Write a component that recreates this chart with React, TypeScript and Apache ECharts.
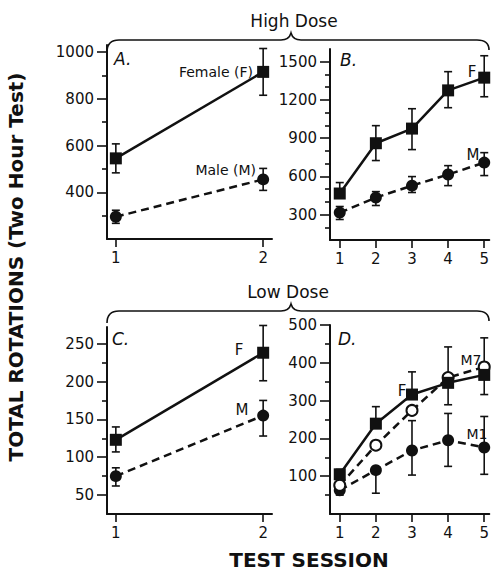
import React, { useEffect, useRef } from "react";
import * as echarts from "echarts";

// ---------- data ----------
const sessions2 = [1, 2];
const sessions5 = [1, 2, 3, 4, 5];

// A. High dose, 2 sessions
const highA_F = [545, 915];
const highA_F_lo = [483, 815];
const highA_F_hi = [607, 1015];
const highA_M = [295, 455];
const highA_M_lo = [267, 408];
const highA_M_hi = [323, 502];

// B. High dose, 5 sessions
const highB_F = [465, 860, 975, 1275, 1375];
const highB_F_lo = [465, 724, 810, 1139, 1225];
const highB_F_hi = [551, 998, 1131, 1422, 1547];
const highB_M = [315, 433, 527, 614, 708];
const highB_M_lo = [261, 371, 473, 527, 606];
const highB_M_hi = [363, 480, 598, 684, 786];

// C. Low dose, 2 sessions
const lowC_F = [123, 238];
const lowC_F_lo = [107, 201];
const lowC_F_hi = [140, 274];
const lowC_M = [75, 155];
const lowC_M_lo = [62, 128];
const lowC_M_hi = [86, 175];

// D. Low dose, 5 sessions
const lowD_F = [105, 239, 316, 347, 368];
const lowD_F_lo = [92, 239, 316, 347, 368];
const lowD_F_hi = [118, 284, 376, 347, 368];
const lowD_M7 = [76, 182, 274, 361, 389];
const lowD_M7_lo = [76, 182, 274, 289, 316];
const lowD_M7_hi = [76, 182, 274, 442, 466];
const lowD_M1 = [63, 116, 168, 195, 176];
const lowD_M1_lo = [50, 55, 103, 126, 105];
const lowD_M1_hi = [63, 116, 247, 266, 258];

// tick values
const ticksA = [400, 600, 800, 1000];
const minorA = [300, 500, 700, 900];
const ticksB = [300, 600, 900, 1200, 1500];
const minorB = [200, 400, 500, 700, 800, 1000, 1100, 1300, 1400];
const ticksC = [50, 100, 150, 200, 250];
const minorC = [75, 125, 175, 225];
const ticksD = [100, 200, 300, 400, 500];
const minorD = [50, 150, 250, 350, 450];

const INK = "#111";
const FONT = '"DejaVu Sans", sans-serif';

const panels = [
  { left: 107, top: 45, width: 165, height: 194, xmin: 0.94, xmax: 2.06, ymin: 200, ymax: 1030, xt: sessions2, yt: ticksA, ym: minorA },
  { left: 330, top: 49, width: 162, height: 191, xmin: 0.73, xmax: 5.14, ymin: 100, ymax: 1600, xt: sessions5, yt: ticksB, ym: minorB },
  { left: 107, top: 327, width: 165, height: 187, xmin: 0.94, xmax: 2.06, ymin: 25, ymax: 272, xt: sessions2, yt: ticksC, ym: minorC },
  { left: 330, top: 325, width: 162, height: 189, xmin: 0.73, xmax: 5.14, ymin: 0, ymax: 500, xt: sessions5, yt: ticksD, ym: minorD },
];

function lineSeries(idx: number, xs: number[], ys: number[], kind: "F" | "M" | "O") {
  const dashed = kind !== "F";
  return {
    type: "line",
    xAxisIndex: idx,
    yAxisIndex: idx * 2,
    data: xs.map((x, i) => [x, ys[i]]),
    symbol: kind === "F" ? "rect" : "circle",
    symbolSize: kind === "F" ? 12 : kind === "O" ? 11 : 12,
    showSymbol: true,
    clip: false,
    silent: true,
    z: 3,
    lineStyle: { color: INK, width: 2.5, type: dashed ? [8, 5] : "solid" },
    itemStyle:
      kind === "O"
        ? { color: "#fff", borderColor: INK, borderWidth: 2 }
        : { color: INK, borderColor: INK, borderWidth: 0 },
  };
}

function errSeries(idx: number, xs: number[], lo: number[], hi: number[]) {
  return {
    type: "custom",
    xAxisIndex: idx,
    yAxisIndex: idx * 2,
    data: xs.map((x, i) => [x, lo[i], hi[i]]),
    encode: { x: 0, y: [1, 2] },
    clip: false,
    silent: true,
    z: 2,
    renderItem: (params: any, api: any) => {
      const x = api.value(0);
      const l = api.value(1);
      const h = api.value(2);
      if (l === h) return { type: "group", children: [] };
      const p1 = api.coord([x, l]);
      const p2 = api.coord([x, h]);
      const w = 4;
      const st = { stroke: INK, lineWidth: 1.6 };
      return {
        type: "group",
        children: [
          { type: "line", shape: { x1: p1[0], y1: p1[1], x2: p2[0], y2: p2[1] }, style: st },
          { type: "line", shape: { x1: p1[0] - w, y1: p1[1], x2: p1[0] + w, y2: p1[1] }, style: st },
          { type: "line", shape: { x1: p2[0] - w, y1: p2[1], x2: p2[0] + w, y2: p2[1] }, style: st },
        ],
      };
    },
  };
}

function txt(text: string, x: number, y: number, size: number, align = "center", extra: any = {}) {
  const { italic, bold, ...rest } = extra;
  return {
    type: "text",
    x,
    y,
    silent: true,
    ...rest,
    style: {
      text,
      fill: INK,
      font: `${italic ? "italic " : ""}${bold ? "bold " : ""}${size}px ${FONT}`,
      textAlign: align,
      textVerticalAlign: "middle",
    },
  };
}

echarts.graphic.registerShape(
  "brace",
  echarts.graphic.extendPath(
    "M107,12 Q107,0 119,0 L281,0 Q289,0 291,-7 Q293,0 301,0 L477,0 Q489,0 489,10",
    {}
  )
);

export default function App() {
  const ref = useRef<HTMLDivElement>(null);
  useEffect(() => {
    if (!ref.current) return;
    const chart = echarts.init(ref.current, undefined, { renderer: "svg" });

    const plain = (v: number) => String(v);
    const grid = panels.map((p) => ({ left: p.left, top: p.top, width: p.width, height: p.height }));
    const xAxis = panels.map((p, i) => ({
      type: "value",
      gridIndex: i,
      min: p.xmin,
      max: p.xmax,
      splitLine: { show: false },
      axisLine: { show: true, onZero: false, lineStyle: { color: INK, width: 2 } },
      axisTick: { show: true, customValues: p.xt, length: 8, lineStyle: { color: INK, width: 1.6 } },
      axisLabel: { show: true, customValues: p.xt, formatter: plain, margin: 11, color: INK, fontSize: 15, fontFamily: FONT },
    }));
    const yAxis: any[] = [];
    panels.forEach((p, i) => {
      yAxis.push({
        type: "value",
        gridIndex: i,
        position: "left",
        min: p.ymin,
        max: p.ymax,
        splitLine: { show: false },
        axisLine: { show: true, onZero: false, lineStyle: { color: INK, width: 2 } },
        axisTick: { show: true, customValues: p.yt, length: 10, lineStyle: { color: INK, width: 1.6 } },
        axisLabel: { show: true, customValues: p.yt, formatter: plain, margin: 13, color: INK, fontSize: 15, fontFamily: FONT },
      });
      yAxis.push({
        type: "value",
        gridIndex: i,
        position: "left",
        min: p.ymin,
        max: p.ymax,
        splitLine: { show: false },
        axisLine: { show: false, onZero: false },
        axisTick: { show: true, customValues: p.ym, length: 5, lineStyle: { color: INK, width: 1.6 } },
        axisLabel: { show: false },
      });
    });

    const series: any[] = [
      errSeries(0, sessions2, highA_F_lo, highA_F_hi),
      errSeries(0, sessions2, highA_M_lo, highA_M_hi),
      lineSeries(0, sessions2, highA_F, "F"),
      lineSeries(0, sessions2, highA_M, "M"),

      errSeries(1, sessions5, highB_F_lo, highB_F_hi),
      errSeries(1, sessions5, highB_M_lo, highB_M_hi),
      lineSeries(1, sessions5, highB_F, "F"),
      lineSeries(1, sessions5, highB_M, "M"),

      errSeries(2, sessions2, lowC_F_lo, lowC_F_hi),
      errSeries(2, sessions2, lowC_M_lo, lowC_M_hi),
      lineSeries(2, sessions2, lowC_F, "F"),
      lineSeries(2, sessions2, lowC_M, "M"),

      errSeries(3, sessions5, lowD_F_lo, lowD_F_hi),
      errSeries(3, sessions5, lowD_M7_lo, lowD_M7_hi),
      errSeries(3, sessions5, lowD_M1_lo, lowD_M1_hi),
      lineSeries(3, sessions5, lowD_M1, "M"),
      lineSeries(3, sessions5, lowD_M7, "O"),
      lineSeries(3, sessions5, lowD_F, "F"),
    ];

    const graphic: any[] = [
      { type: "brace", x: 0, y: 40, silent: true, style: { stroke: INK, fill: "none", lineWidth: 1.6 } },
      { type: "brace", x: 0, y: 311, silent: true, style: { stroke: INK, fill: "none", lineWidth: 1.6 } },
      txt("High Dose", 294, 21, 17),
      txt("Low Dose", 288, 292, 17),
      txt("TOTAL ROTATIONS (Two Hour Test)", 16, 267, 20, "center", { rotation: Math.PI / 2, bold: true }),
      txt("TEST SESSION", 309, 560, 20, "center", { bold: true }),
      txt("A.", 114, 59, 17, "left", { italic: true }),
      txt("B.", 340, 60, 17, "left", { italic: true }),
      txt("C.", 112, 339, 17, "left", { italic: true }),
      txt("D.", 338, 339, 17, "left", { italic: true }),
      txt("Female (F)", 253, 72, 14, "right"),
      txt("Male (M)", 256, 170, 14, "right"),
      txt("F", 472, 72, 15),
      txt("M", 473, 155, 15),
      txt("F", 239, 350, 15),
      txt("M", 242, 410, 15),
      txt("F", 402, 391, 15),
      txt("M7", 471, 360, 14),
      txt("M1", 477, 434, 14),
    ];

    chart.setOption({
      animation: false,
      backgroundColor: "#fff",
      grid,
      xAxis,
      yAxis,
      series,
      graphic,
    });
    return () => chart.dispose();
  }, []);
  return (
    <div
      ref={ref}
      style={{ position: "absolute", left: 0, top: 0, width: 492, height: 573, background: "#fff" }}
    />
  );
}
